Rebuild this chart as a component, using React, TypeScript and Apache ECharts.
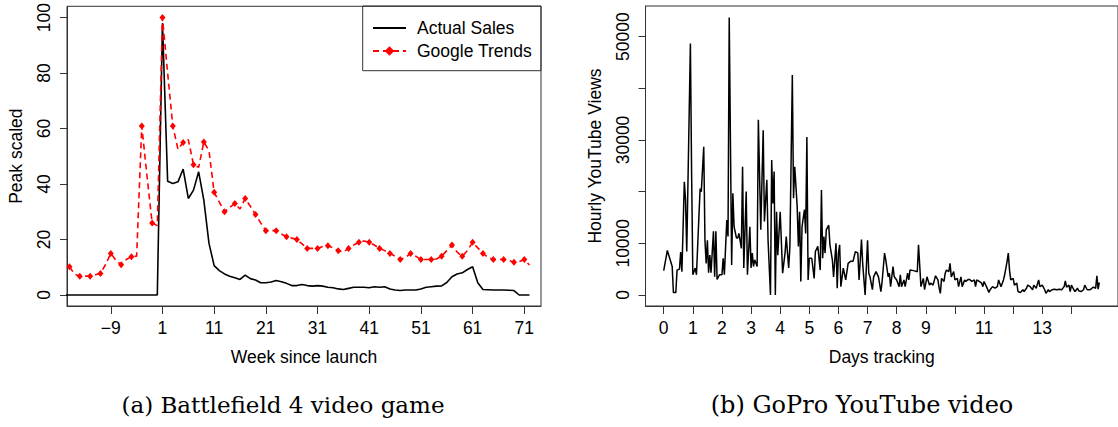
import React, { useEffect, useRef } from "react";
import * as echarts from "echarts";

// ---------- Panel (a): Battlefield 4 ----------
const salesStartWeek = -18;
const actualSales = [
  0, 0, 0, 0, 0, 0, 0, 0, 0, 0, 0, 0, 0, 0, 0, 0, 0, 0, 0,
  98, 41, 40.2, 40.8, 45.4, 34.8, 37.8, 44.4, 34.2, 18.6,
  10.6, 8.8, 7.6, 6.8, 6.2, 5.6, 7.2, 5.9, 5.4, 4.4,
  4.4, 4.7, 5.2, 4.8, 4.2, 3.4, 3.4, 3.8, 3.4, 3.2,
  3.4, 3.2, 2.8, 2.6, 2.2, 2.0, 2.4, 2.8, 2.8, 2.8,
  2.6, 3.0, 2.8, 3.0, 2.2, 1.8, 1.6, 1.8, 1.8, 1.8,
  2.2, 2.8, 3.0, 3.2, 3.3, 4.5, 6.6, 7.6, 8.0, 9.2,
  10.2, 4.4, 2.0, 1.9, 1.8, 1.8, 1.8, 1.7, 1.6, 0,
  0, 0,
];

const trendsStartWeek = -17;
const googleTrends = [
  10.2, 7.5, 6.8, 6.8, 6.8, 7.3, 7.8, 11, 15, 12.5,
  10.9, 12.8, 13.8, 14, 60.9, 43, 26, 25,
  100, 80, 60.9, 52.5, 55, 56, 47, 46, 55.2, 52,
  37, 33.5, 30, 31.5, 33, 31, 34.8, 32, 29, 26,
  23.2, 23.2, 23.2, 22, 21, 20.5, 20, 18.4, 16.8, 16.8,
  16.8, 17.5, 17.8, 17, 16, 15.5, 16.8, 18, 19, 19.5,
  19, 18, 16.8, 16, 15, 14, 12.8, 13.5, 15, 14,
  12.8, 12.8, 12.8, 13, 14, 16, 18, 15.5, 14, 16,
  19, 17, 15, 13.5, 12.8, 12.8, 12.8, 12.5, 11.8, 12,
  12.8, 10.8,
];

const weekTicks = [-9, 1, 11, 21, 31, 41, 51, 61, 71];
const peakTicks = [0, 20, 40, 60, 80, 100];

// ---------- Panel (b): GoPro ----------
const goproHours = [
  0, 3, 7, 8, 10, 11, 13, 14, 15, 17, 18, 19, 22, 23, 24, 26, 27, 30, 31, 33,
  34, 35, 36, 37, 38, 39, 41, 42, 43, 44, 46, 48, 49, 50, 52, 53, 54, 56, 57, 58,
  60, 61, 62, 64, 65, 66, 68, 69, 71, 72, 73, 74, 75, 77, 78, 80, 82, 83, 85, 86,
  88, 89, 90, 91, 92, 93, 94, 96, 98, 100, 101, 103, 104, 106, 107, 108, 110, 111, 112, 113,
  114, 116, 117, 118, 119, 120, 122, 124, 125, 127, 129, 130, 131, 132, 133, 134, 136, 137, 139, 140,
  142, 143, 144, 145, 146, 148, 150, 152, 154, 156, 158, 160, 161, 163, 164, 166, 168, 169, 170, 172,
  173, 175, 177, 179, 180, 182, 183, 185, 186, 187, 189, 190, 192, 194, 195, 196, 198, 199, 201, 202,
  203, 206, 209, 210, 212, 214, 215, 217, 219, 220, 222, 224, 226, 227, 228, 229, 231, 232, 233, 235,
  236, 237, 239, 240, 242, 243, 245, 246, 248, 249, 251, 252, 254, 256, 257, 258, 260, 262, 263, 264,
  266, 268, 269, 271, 273, 275, 276, 278, 280, 281, 283, 284, 285, 286, 288, 289, 291, 292, 294, 296,
  297, 299, 300, 302, 304, 305, 307, 309, 310, 312, 314, 315, 317, 318, 320, 322, 324, 326, 328, 330,
  331, 332, 334, 335, 336, 338, 339, 341, 342, 344, 346, 347, 349, 351, 352, 354, 356, 357, 358, 359,
];
const goproViews = [
  4700, 8600, 5500, 450, 450, 4800, 5000, 8300, 4500, 21900, 18400, 8400, 48700, 23500, 3900, 5200, 3900, 20600, 20000, 28700,
  10600, 6100, 10600, 4300, 7700, 4300, 12300, 3500, 12300, 3000, 3900, 3900, 7100, 3900, 14500, 11300, 53700, 5800, 19700, 13200,
  11000, 11000, 11900, 9000, 24800, 5200, 20000, 3900, 13200, 5200, 8100, 5500, 6800, 5500, 33900, 12600, 31900, 14200, 22300, 10600,
  0, 26100, 17700, 23900, 0, 16100, 7700, 16100, 4200, 8100, 11300, 5200, 9400, 42600, 18700, 24800, 17100, 9400, 16100, 2600,
  13200, 16500, 11900, 30600, 2900, 7100, 7100, 3200, 8400, 9400, 4800, 20300, 7100, 11300, 8100, 12600, 13500, 9700, 6800, 3500,
  10000, 1300, 8100, 9700, 1600, 5200, 2900, 6100, 6500, 6500, 8400, 8100, 2900, 10700, 6000, 0, 10600, 4200, 3500, 1000,
  3500, 4500, 3500, 650, 2600, 8100, 6800, 3500, 4200, 1600, 5500, 3500, 2900, 1600, 3900, 1600, 2900, 1600, 4200, 2900,
  4800, 4700, 4500, 9700, 1600, 3200, 1000, 3500, 1900, 2300, 1900, 3700, 2900, 1300, 300, 3200, 2600, 4200, 4800, 4500,
  6100, 3500, 4500, 2900, 3200, 1600, 3500, 1600, 2900, 2600, 3000, 3000, 2600, 2900, 1600, 2900, 2600, 2300, 1600, 2600,
  1600, 450, 1000, 1600, 1300, 1600, 2900, 1600, 2900, 3900, 6500, 8100, 4800, 2900, 3200, 1900, 2300, 650, 450, 1000,
  650, 1300, 1900, 1600, 1000, 1900, 1300, 2900, 1600, 1900, 1000, 300, 1000, 650, 1000, 1100, 1000, 1100, 1000, 1600,
  2700, 1500, 1900, 650, 1900, 1000, 650, 1300, 800, 650, 1000, 1900, 1000, 1000, 1100, 1500, 1300, 3700, 1100, 2400,
];

const dayTicks = [0, 1, 2, 3, 4, 5, 6, 7, 8, 9, 10, 11, 12, 13, 14];
const dayTickLabels = ["0", "1", "2", "3", "4", "5", "6", "7", "8", "9", "", "11", "", "13", ""];
const viewTicks = [0, 10000, 20000, 30000, 40000, 50000];
const viewTickLabels = ["0", "10000", "", "30000", "", "50000"];

const SANS = "Liberation Sans";
const SERIF = "DejaVu Serif";
const FS = 17.5;

export default function App() {
  const ref = useRef<HTMLDivElement>(null);
  useEffect(() => {
    if (!ref.current) return;
    const chart = echarts.init(ref.current, null, { renderer: "svg" });

    const salesData = actualSales.map((v, i) => [salesStartWeek + i, v]);
    const trendsData = googleTrends.map((v, i) => {
      const w = trendsStartWeek + i;
      return { value: [w, v], symbol: w % 2 !== 0 ? "diamond" : "none" };
    });
    const goproData = goproHours.map((h, i) => [h / 24, goproViews[i]]);

    const axisTextStyle = { fontSize: FS, fontFamily: SANS, color: "#000" };

    const xBase = (idx: number) => ({
      type: "value" as const,
      gridIndex: idx,
      axisLine: { show: true, onZero: false, lineStyle: { color: "#333", width: 1 } },
      splitLine: { show: false },
      nameLocation: "middle" as const,
      nameGap: 42,
      nameTextStyle: axisTextStyle,
    });
    const yBase = (idx: number) => ({
      type: "value" as const,
      gridIndex: idx,
      axisLine: { show: true, onZero: false, lineStyle: { color: "#333", width: 1 } },
      splitLine: { show: false },
      nameLocation: "middle" as const,
      nameRotate: 90,
      nameGap: 42,
      nameTextStyle: axisTextStyle,
    });

    chart.setOption({
      animation: false,
      backgroundColor: "#fff",
      grid: [
        { left: 67, top: 6, width: 474, height: 300, show: true, borderColor: "#333", borderWidth: 1, containLabel: false },
        { left: 645.5, top: 6, width: 475.5, height: 300, show: true, borderColor: "#333", borderWidth: 1, containLabel: false },
      ],
      xAxis: [
        {
          ...xBase(0),
          min: -17.47,
          max: 74.23,
          name: "Week since launch",
          axisTick: { show: true, customValues: weekTicks, length: 8, lineStyle: { color: "#333" } },
          axisLabel: {
            customValues: weekTicks,
            margin: 13,
            ...axisTextStyle,
            formatter: (v: number) => (v < 0 ? "\u2212" + Math.abs(v) : String(v)),
          },
        },
        {
          ...xBase(1),
          min: -0.625,
          max: 15.6,
          name: "Days tracking",
          axisTick: { show: true, customValues: dayTicks, length: 8, lineStyle: { color: "#333" } },
          axisLabel: {
            customValues: dayTicks,
            margin: 13,
            ...axisTextStyle,
            formatter: (v: number) => dayTickLabels[dayTicks.indexOf(Math.round(v))] ?? "",
          },
        },
      ],
      yAxis: [
        {
          ...yBase(0),
          min: -3.96,
          max: 104.07,
          name: "Peak scaled",
          axisTick: { show: true, customValues: peakTicks, length: 7, lineStyle: { color: "#333" } },
          axisLabel: { customValues: peakTicks, rotate: 90, margin: 14, ...axisTextStyle },
        },
        {
          ...yBase(1),
          min: -2150,
          max: 55950,
          name: "Hourly YouTube Views",
          axisTick: { show: true, customValues: viewTicks, length: 7, lineStyle: { color: "#333" } },
          axisLabel: {
            customValues: viewTicks,
            rotate: 90,
            margin: 14,
            ...axisTextStyle,
            formatter: (v: number) => viewTickLabels[viewTicks.indexOf(Math.round(v))] ?? "",
          },
        },
      ],
      legend: {
        data: [
          { name: "Actual Sales", itemStyle: { opacity: 0 } },
          { name: "Google Trends" },
        ],
        orient: "vertical",
        left: 367,
        top: 14,
        itemWidth: 33,
        itemHeight: 12,
        itemGap: 5,
        textStyle: { fontSize: FS, fontFamily: SANS, color: "#000", padding: [0, 0, 0, 6], lineHeight: 18 },
      },
      graphic: [
        {
          type: "rect",
          shape: { x: 362.7, y: 6, width: 178.3, height: 64.7 },
          style: { fill: "none", stroke: "#333", lineWidth: 1 },
          z: 10,
        },
        {
          type: "text",
          x: 283,
          y: 405,
          style: { text: "(a) Battlefield 4 video game", fontSize: 23, fontFamily: SERIF, fill: "#000", align: "center", verticalAlign: "middle" },
        },
        {
          type: "text",
          x: 862,
          y: 405,
          style: { text: "(b) GoPro YouTube video", fontSize: 24, fontFamily: SERIF, fill: "#000", align: "center", verticalAlign: "middle" },
        },
      ],
      series: [
        {
          name: "Actual Sales",
          type: "line",
          xAxisIndex: 0,
          yAxisIndex: 0,
          data: salesData,
          symbol: "none",
          showSymbol: false,
          clip: true,
          lineStyle: { color: "#000", width: 1.6 },
          itemStyle: { color: "#000" },
        },
        {
          name: "Google Trends",
          type: "line",
          xAxisIndex: 0,
          yAxisIndex: 0,
          data: trendsData,
          symbol: "diamond",
          symbolSize: [6, 7],
          clip: true,
          lineStyle: { color: "#f00", width: 1.6, type: [6, 4] },
          itemStyle: { color: "#f00" },
        },
        {
          name: "GoPro",
          type: "line",
          xAxisIndex: 1,
          yAxisIndex: 1,
          data: goproData,
          symbol: "none",
          showSymbol: false,
          clip: true,
          lineStyle: { color: "#000", width: 1.5 },
          itemStyle: { color: "#000" },
        },
      ],
    });
    return () => chart.dispose();
  }, []);
  return <div ref={ref} style={{ position: "absolute", left: 0, top: 0, width: 1118, height: 427 }} />;
}
